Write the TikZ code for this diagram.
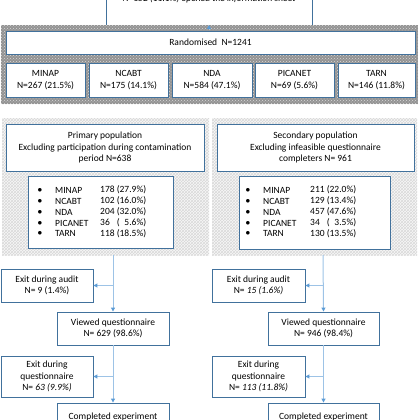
\documentclass[tikz,border=0pt]{standalone}
\usepackage{fontspec}
\setmainfont{Carlito}
\usetikzlibrary{patterns,arrows.meta}
\definecolor{boxblue}{HTML}{41719C}
\definecolor{linblue}{HTML}{9DC3E6}
\definecolor{tipblue}{HTML}{5B9BD5}
\tikzset{
  x=1pt,y=1pt,
  box/.style={draw=boxblue, fill=white, line width=0.9pt, align=center, inner sep=1pt,
    font=\fontsize{9.5}{11.5}\selectfont},
  txt/.style={inner sep=0pt, font=\fontsize{9.5}{11.5}\selectfont},
  conn/.style={draw=linblue, line width=1pt, -{Triangle[length=4pt,width=4pt,color=tipblue]}},
}
\begin{document}
\begin{tikzpicture}
\useasboundingbox (0,0) rectangle (420,-420);
\begin{scope}
\clip (0,0) rectangle (420,-420);
% top box
\node[box, minimum width=206, minimum height=43] (top) at (209,-8.5) {};
\node[txt, font=\fontsize{9.5}{11.5}\selectfont\itshape] (topt) at (209,1.5) {N=152 (11.1\%) opened the information sheet};
% randomised panel
\fill[gray!85] (1,-25) rectangle (418,-104);
\fill[pattern=crosshatch dots, pattern color=gray!30] (1,-25) rectangle (418,-104);
\coordinate (rtop) at (209,-25);
\draw[conn] (top.south) -- (rtop);
\node[box, minimum width=409, minimum height=23] (rand) at (210.5,-42.5) {Randomised\ \ N=1241};
\node[box, minimum width=79, minimum height=34] (minap) at (45.5,-80) {MINAP\\N=267 (21.5\%)};
\node[box, minimum width=79, minimum height=34] (ncabt) at (128.5,-80) {NCABT\\N=175 (14.1\%)};
\node[box, minimum width=80, minimum height=34] (nda) at (212,-80) {NDA\\N=584 (47.1\%)};
\node[box, minimum width=79, minimum height=34] (picanet) at (294.5,-80) {PICANET\\N=69 (5.6\%)};
\node[box, minimum width=77, minimum height=34] (tarn) at (376.5,-80) {TARN\\N=146 (11.8\%)};
% lower panels
\fill[gray!6] (2,-118) rectangle (209,-255);
\fill[pattern=crosshatch, pattern color=gray!30] (2,-118) rectangle (209,-255);
\fill[gray!6] (212,-118) rectangle (417,-255);
\fill[pattern=crosshatch, pattern color=gray!30] (212,-118) rectangle (417,-255);
\node[box, minimum width=198, minimum height=47] (prim) at (105,-147.5) {Primary population\\Excluding participation during contamination\\period N=638};
\node[box, minimum width=197, minimum height=47] (sec) at (315.5,-147.5) {Secondary population\\Excluding infeasible questionnaire\\completers N= 961};
\node[box, minimum width=145, minimum height=72] (listl) at (100.5,-212) {};
\node[box, minimum width=151, minimum height=73] (listr) at (314.5,-212.5) {};
% list entries left
\foreach \y/\n/\v [count=\i] in {190/MINAP/178 (27.9\%), 201/NCABT/102 (16.0\%), 212/NDA/204 (32.0\%), 223/PICANET/36\phantom{0} (\phantom{0}5.6\%), 233.5/TARN/118 (18.5\%)}{
  \node[txt] (lb\i) at (40,-\y) {$\bullet$};
  \node[txt, anchor=west] (ln\i) at (55,-\y) {\n};
  \node[txt, anchor=west] (lv\i) at (100,-\y) {\v};
}
\foreach \y/\n/\v [count=\i] in {190/MINAP/211 (22.0\%), 201/NCABT/129 (13.4\%), 212/NDA/457 (47.6\%), 223/PICANET/34\phantom{0} (\phantom{0}3.5\%), 233.5/TARN/130 (13.5\%)}{
  \node[txt] (rb\i) at (248,-\y) {$\bullet$};
  \node[txt, anchor=west] (rn\i) at (263,-\y) {\n};
  \node[txt, anchor=west] (rv\i) at (310,-\y) {\v};
}
% left flow
\node[box, minimum width=92, minimum height=33] (exal) at (47,-285.5) {Exit during audit\\N= 9 (1.4\%)};
\node[box, minimum width=112, minimum height=33] (viewl) at (113,-328.5) {Viewed questionnaire\\N= 629 (98.6\%)};
\node[box, minimum width=92, minimum height=41] (exql) at (47,-376.5) {Exit during\\questionnaire\\N= \textit{63 (9.9\%)}};
\node[box, minimum width=112, minimum height=40] (compl) at (113,-423) {};
\node[txt] (complt) at (113,-417) {Completed experiment};
\coordinate (pl) at (113,-255);
\draw[conn] (pl) -- (viewl.north);
\draw[conn] (exal.east -| pl) -- (exal.east);
\draw[conn] (viewl.south) -- (compl.north);
\draw[conn] (exql.east -| pl) -- (exql.east);
% right flow
\node[box, minimum width=93, minimum height=33] (exar) at (258.5,-285.5) {Exit during audit\\N= \textit{15 (1.6\%)}};
\node[box, minimum width=111, minimum height=33] (viewr) at (323.5,-328.5) {Viewed questionnaire\\N= 946 (98.4\%)};
\node[box, minimum width=93, minimum height=41] (exqr) at (258.5,-376.5) {Exit during\\questionnaire\\N= \textit{113 (11.8\%)}};
\node[box, minimum width=111, minimum height=40] (compr) at (323.5,-423) {};
\node[txt] (comprt) at (323.5,-417) {Completed experiment};
\coordinate (pr) at (323,-255);
\draw[conn] (pr) -- (viewr.north);
\draw[conn] (exar.east -| pr) -- (exar.east);
\draw[conn] (viewr.south) -- (compr.north);
\draw[conn] (exqr.east -| pr) -- (exqr.east);
\end{scope}
\end{tikzpicture}
\end{document}
